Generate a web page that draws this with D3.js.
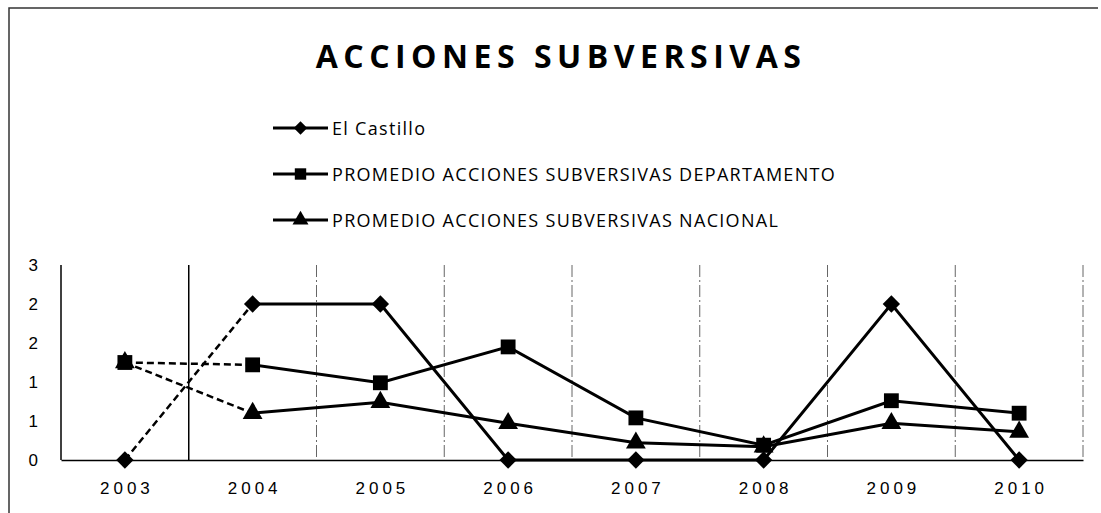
<!DOCTYPE html>
<html>
<head>
<meta charset="utf-8">
<script src="https://cdn.jsdelivr.net/npm/d3@7"></script>
<style>
  body { margin: 0; background: #fff; }
  svg { display: block; font-family: "Open Sans", "Noto Sans", sans-serif; }
</style>
</head>
<body>
<svg id="chart" width="1101" height="513"></svg>
<script>
// Data
const years = ['2003', '2004', '2005', '2006', '2007', '2008', '2009', '2010'];
const castillo = [0, 2.0, 2.0, 0, 0, 0, 2.0, 0];
const departamento = [1.25, 1.22, 0.99, 1.45, 0.54, 0.19, 0.76, 0.6];
const nacional = [1.25, 0.6, 0.74, 0.47, 0.22, 0.17, 0.47, 0.36];
const yTicks = [0, 0.5, 1, 1.5, 2, 2.5];
const yTickLabels = ['0', '1', '1', '2', '2', '3'];

// diamond = square turned 45 degrees (Excel style)
const diamond = {
    draw(context, size) {
        const r = Math.sqrt(size / 2);
        context.moveTo(0, -r);
        context.lineTo(r, 0);
        context.lineTo(0, r);
        context.lineTo(-r, 0);
        context.closePath();
    }
};

const series = [
    { name: 'El Castillo', values: castillo, symbol: diamond, size: 150, legendSize: 90 },
    { name: 'PROMEDIO ACCIONES SUBVERSIVAS DEPARTAMENTO', values: departamento, symbol: d3.symbolSquare, size: 220, legendSize: 130 },
    { name: 'PROMEDIO ACCIONES SUBVERSIVAS NACIONAL', values: nacional, symbol: d3.symbolTriangle, size: 170, legendSize: 110 }
];

const svg = d3.select('#chart');
const margin = { left: 61, right: 18, top: 265, bottom: 53 };
const width = 1101, height = 513;

// outer frame
svg.append('path')
    .attr('d', 'M9,513 L9,8 L1098,8')
    .attr('fill', 'none')
    .attr('stroke', '#333')
    .attr('stroke-width', 1.5);

// title
svg.append('text')
    .attr('x', 561)
    .attr('y', 68)
    .attr('text-anchor', 'middle')
    .style('font-size', '32px')
    .style('font-weight', 'bold')
    .style('letter-spacing', '5.5px')
    .text('ACCIONES SUBVERSIVAS');

const x = d3.scaleBand()
    .domain(years)
    .range([margin.left, width - margin.right]);

const y = d3.scaleLinear()
    .domain([0, 2.5])
    .range([height - margin.bottom, margin.top]);

// vertical category separators
svg.append('g')
    .selectAll('line')
    .data(years)
    .enter()
    .append('line')
    .attr('x1', d => x(d) + x.bandwidth())
    .attr('x2', d => x(d) + x.bandwidth())
    .attr('y1', y(2.5))
    .attr('y2', y(0))
    .attr('stroke', (d, i) => i === 0 ? '#000' : '#666')
    .attr('stroke-width', (d, i) => i === 0 ? 1.5 : 1)
    .attr('stroke-dasharray', (d, i) => i === 0 ? null : '12,3,2,3');

// left axis line
svg.append('line')
    .attr('x1', margin.left).attr('x2', margin.left)
    .attr('y1', y(2.5)).attr('y2', y(0))
    .attr('stroke', '#000')
    .attr('stroke-width', 1.5);

// x axis
const xAxis = svg.append('g')
    .attr('transform', `translate(0,${y(0)})`)
    .call(d3.axisBottom(x).tickSize(0).tickPadding(22));
xAxis.select('.domain').attr('stroke', '#000').attr('stroke-width', 1.5);
xAxis.selectAll('text')
    .style('font-size', '17px')
    .style('letter-spacing', '4px')
    .attr('dx', '2px')
    .attr('fill', '#000');

// y axis labels
const yAxis = svg.append('g')
    .attr('transform', `translate(${margin.left},0)`)
    .call(d3.axisLeft(y)
        .tickValues(yTicks)
        .tickSize(0)
        .tickPadding(23)
        .tickFormat((d, i) => yTickLabels[i]));
yAxis.select('.domain').remove();
yAxis.selectAll('text')
    .style('font-size', '17px')
    .attr('fill', '#000');

const cx = d => x(d) + x.bandwidth() / 2;

series.forEach(s => {
    // first segment looks dashed in the reference
    svg.append('path')
        .datum(s.values.slice(0, 2))
        .attr('d', d3.line()
            .x((d, i) => cx(years[i]))
            .y(d => y(d)))
        .attr('fill', 'none')
        .attr('stroke', '#000')
        .attr('stroke-width', 2.5)
        .attr('stroke-dasharray', '7,4');

    svg.append('path')
        .datum(s.values.slice(1))
        .attr('d', d3.line()
            .x((d, i) => cx(years[i + 1]))
            .y(d => y(d)))
        .attr('fill', 'none')
        .attr('stroke', '#000')
        .attr('stroke-width', 3);

    svg.append('g')
        .selectAll('path')
        .data(s.values)
        .enter()
        .append('path')
        .attr('transform', (d, i) => `translate(${cx(years[i])},${y(d)})`)
        .attr('d', d3.symbol().type(s.symbol).size(s.size))
        .attr('fill', '#000');
});

// legend
const legend = svg.append('g')
    .attr('transform', 'translate(273,128)');

series.forEach((s, i) => {
    const g = legend.append('g')
        .attr('transform', `translate(0,${i * 46})`);
    g.append('line')
        .attr('x1', 0).attr('x2', 55)
        .attr('y1', 0).attr('y2', 0)
        .attr('stroke', '#000')
        .attr('stroke-width', 3);
    g.append('path')
        .attr('transform', 'translate(27.5,0)')
        .attr('d', d3.symbol().type(s.symbol).size(s.legendSize))
        .attr('fill', '#000');
    g.append('text')
        .attr('x', 59)
        .attr('y', 6.5)
        .style('font-size', '18px')
        .style('letter-spacing', '1.3px')
        .text(s.name);
});
</script>
</body>
</html>
